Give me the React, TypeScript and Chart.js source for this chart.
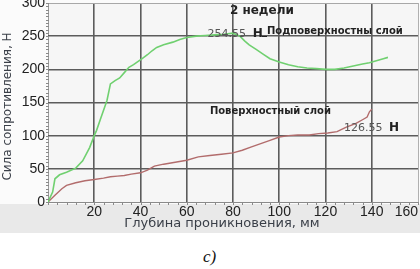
import React, { useEffect, useRef } from "react";
import { Chart, registerables } from "chart.js";

Chart.register(...registerables);

// Depth (mm) and force (N) readings
const subsurfaceX = [0, 2, 3, 5, 8, 12, 15, 18, 20, 21, 23, 25.5, 27, 29, 31, 33, 35, 37, 39, 41, 43, 45, 47, 50, 54, 57, 60, 64, 68, 72, 76, 80, 83, 85, 87, 90, 93, 96, 100, 104, 108, 112, 116, 120, 124, 128, 132, 136, 139, 142, 145, 147];
const subsurfaceY = [0, 15, 35, 41, 45, 51, 62, 82, 100, 108, 128, 153, 178, 183, 187, 195, 203, 207, 212, 217, 222, 228, 233, 237, 241, 245, 248, 250, 251, 252, 253, 254.5, 250, 243, 237, 230, 223, 216, 211, 207, 204, 202, 201, 200, 200, 202, 205, 208, 210, 213, 216, 218];

const surfaceX = [0, 3, 6, 8, 12, 16, 20, 24, 27, 30, 33, 36, 40, 43, 46, 50, 55, 60, 65, 70, 75, 80, 84, 88, 92, 96, 100, 104, 108, 113, 117, 121, 125, 129, 133, 136, 138, 139, 140];
const surfaceY = [0, 10, 20, 25, 29, 32, 34, 36, 38, 39, 40, 42, 44, 48, 54, 57, 60, 63, 68, 70, 72, 74, 78, 83, 88, 93, 98, 100, 101, 101, 103, 104, 106, 113, 118, 124, 128, 136, 140];

const xTicks = [0, 20, 40, 60, 80, 100, 120, 140, 160];
const yTicks = [0, 50, 100, 150, 200, 250, 300];

const seriesNames = ["Подповерхностны слой", "Поверхностный слой"];
const titleText = "2 недели";
const peakLabel = "254.55";
const endLabel = "126.55";
const unitN = "Н";
const xTitle = "Глубина проникновения, мм";
const yTitle = "Сила сопротивления, Н";

export default function App() {
  const ref = useRef<HTMLCanvasElement | null>(null);

  useEffect(() => {
    if (!ref.current) return;
    const zip = (xs: number[], ys: number[]) => xs.map((x, i) => ({ x, y: ys[i] }));

    const bgPlugin = {
      id: "bg",
      beforeDraw(chart: any) {
        const { ctx, chartArea: a, width, height } = chart;
        ctx.save();
        ctx.fillStyle = "#fbfbfb";
        ctx.fillRect(0, 0, width, height);
        ctx.fillStyle = "#e9e9e9";
        ctx.fillRect(0, a.bottom + 2, width, height - a.bottom - 2);
        ctx.fillStyle = "#f6f6f6";
        ctx.fillRect(a.left, a.top, a.right - a.left, a.bottom - a.top);
        ctx.restore();
      },
      afterDraw(chart: any) {
        const { ctx, chartArea: a, scales } = chart;
        const xs = scales.x;
        const ys = scales.y;
        ctx.save();
        // minor ticks on x axis
        ctx.strokeStyle = "#8a8a8a";
        ctx.lineWidth = 1;
        for (let v = 0; v <= 160; v += 4) {
          const px = Math.round(xs.getPixelForValue(v)) + 0.5;
          ctx.beginPath();
          ctx.moveTo(px, a.bottom);
          ctx.lineTo(px, a.bottom + 3);
          ctx.stroke();
        }
        // minor ticks on y axis
        for (let v = 0; v <= 300; v += 5) {
          const py = Math.round(ys.getPixelForValue(v)) + 0.5;
          ctx.beginPath();
          ctx.moveTo(a.left - 2, py);
          ctx.lineTo(a.left + 1, py);
          ctx.stroke();
        }
        // axis titles
        ctx.fillStyle = "#3a3f48";
        ctx.font = "13px 'DejaVu Sans'";
        ctx.textAlign = "center";
        ctx.textBaseline = "middle";
        ctx.fillText(xTitle, (a.left + a.right) / 2 - 11, a.bottom + 22);
        ctx.save();
        ctx.translate(8, (a.top + a.bottom) / 2 + 4);
        ctx.rotate(-Math.PI / 2);
        ctx.font = "12px 'DejaVu Sans'";
        ctx.fillText(yTitle, 0, 0);
        ctx.restore();
        // annotations
        ctx.fillStyle = "#222";
        ctx.font = "bold 12px 'DejaVu Sans'";
        ctx.textAlign = "center";
        ctx.fillText(titleText, xs.getPixelForValue(92.5), ys.getPixelForValue(288));
        ctx.textAlign = "left";
        ctx.font = "11px 'DejaVu Sans'";
        ctx.fillStyle = "#555";
        ctx.fillText(peakLabel, xs.getPixelForValue(69), ys.getPixelForValue(253));
        ctx.fillStyle = "#222";
        ctx.font = "bold 12px 'DejaVu Sans'";
        ctx.fillText(unitN, xs.getPixelForValue(88.5), ys.getPixelForValue(253));
        ctx.font = "bold 10px 'DejaVu Sans'";
        ctx.fillText("_" + seriesNames[0], xs.getPixelForValue(92.5), ys.getPixelForValue(257));
        ctx.fillText(seriesNames[1], xs.getPixelForValue(70), ys.getPixelForValue(136));
        ctx.font = "11px 'DejaVu Sans'";
        ctx.fillStyle = "#555";
        ctx.fillText(endLabel, xs.getPixelForValue(128), ys.getPixelForValue(112));
        ctx.fillStyle = "#222";
        ctx.font = "bold 12px 'DejaVu Sans'";
        ctx.fillText(unitN, xs.getPixelForValue(147.5), ys.getPixelForValue(112));
        ctx.restore();
      },
    };

    const chart = new Chart(ref.current, {
      type: "line",
      data: {
        datasets: [
          {
            label: seriesNames[0],
            data: zip(subsurfaceX, subsurfaceY),
            borderColor: "rgb(112,208,112)",
            borderWidth: 1.6,
            pointRadius: 0,
            tension: 0,
          },
          {
            label: seriesNames[1],
            data: zip(surfaceX, surfaceY),
            borderColor: "rgb(178,108,108)",
            borderWidth: 1.4,
            pointRadius: 0,
            tension: 0,
          },
        ],
      },
      options: {
        animation: false,
        responsive: false,
        layout: { padding: { top: 3, right: 2, left: 0, bottom: 0 } },
        plugins: { legend: { display: false }, tooltip: { enabled: false } },
        scales: {
          x: {
            type: "linear",
            min: 0,
            max: 160,
            afterBuildTicks: (s: any) => { s.ticks = xTicks.map((v) => ({ value: v })); },
            afterFit: (s: any) => { s.height = 31; s.paddingLeft = 0; s.paddingRight = 0; },
            ticks: {
              padding: 2,
              align: "inner",
              color: "#222",
              font: { family: "'Liberation Sans'", size: 14 },
              callback: (v: any) => (v === 0 ? "" : String(v)),
              maxRotation: 0,
              autoSkip: false,
            },
            grid: {
              drawTicks: false,
              color: (c: any) => (c.tick.value === 0 ? "#9a9a9a" : c.tick.value === 160 ? "#b0b0b0" : "#5c5c5c"),
              lineWidth: (c: any) => (c.tick.value === 0 || c.tick.value === 160 ? 1 : 1.6),
            },
            border: { display: false },
          },
          y: {
            type: "linear",
            min: 0,
            max: 300,
            afterBuildTicks: (s: any) => { s.ticks = yTicks.map((v) => ({ value: v })); },
            afterFit: (s: any) => { s.width = 48; s.paddingTop = 0; s.paddingBottom = 0; },
            ticks: {
              padding: 3,
              color: "#222",
              font: { family: "'Liberation Sans'", size: 14 },
              autoSkip: false,
            },
            grid: {
              drawTicks: false,
              color: (c: any) => (c.tick.value === 0 ? "#8a8a8a" : c.tick.value === 300 ? "#a8a8a8" : "#5c5c5c"),
              lineWidth: (c: any) => (c.tick.value === 0 || c.tick.value === 300 ? 1 : 1.6),
            },
            border: { display: false },
          },
        },
      },
      plugins: [bgPlugin],
    } as any);
    return () => chart.destroy();
  }, []);

  return (
    <div style={{ position: "absolute", left: 0, top: 0, width: 420, height: 269, background: "#fff" }}>
      <canvas ref={ref} width={420} height={233} style={{ display: "block", width: 420, height: 233 }} />
      <div
        style={{
          position: "absolute",
          left: 203,
          top: 247,
          fontFamily: "'Liberation Serif', serif",
          fontStyle: "italic",
          fontSize: 17,
          color: "#111",
        }}
      >
        c)
      </div>
    </div>
  );
}
